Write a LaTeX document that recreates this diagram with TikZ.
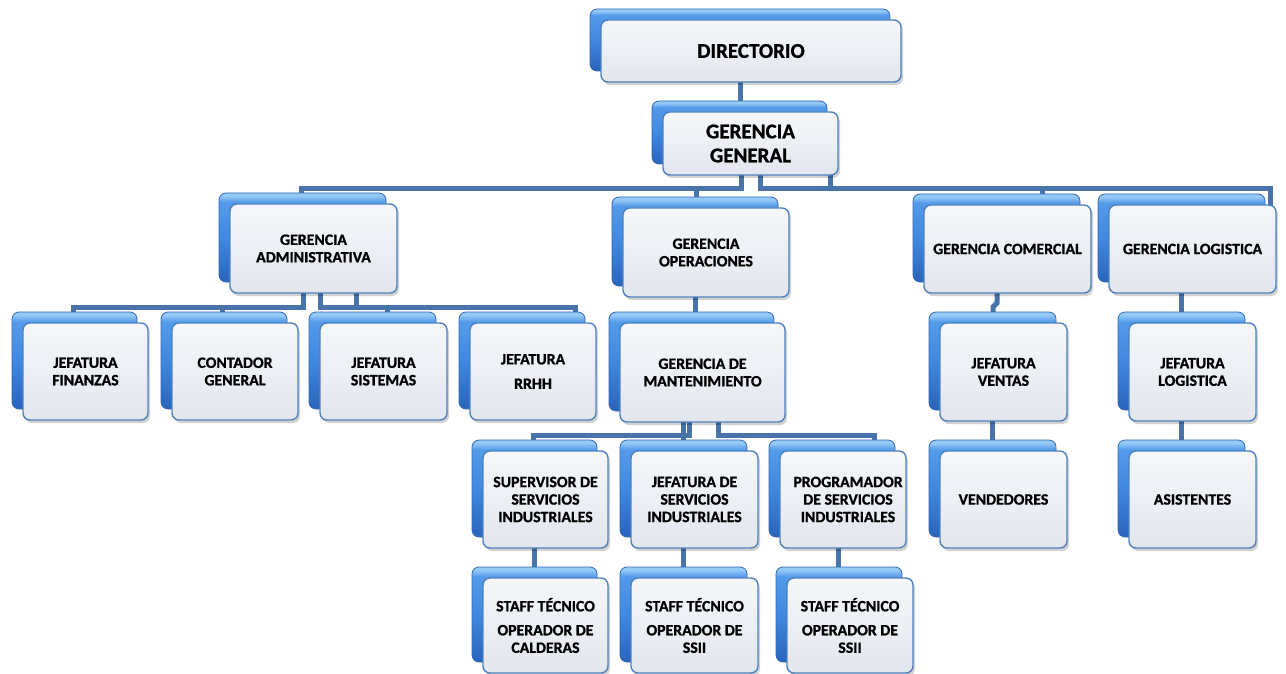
\documentclass[tikz,border=0pt]{standalone}
\usepackage{fontspec}
\newfontfamily\cardfamily{Carlito}[BoldFeatures={FakeBold=1.1}]
\usetikzlibrary{shadows,calc,backgrounds}

\definecolor{linkblue}{RGB}{72,116,170}
\definecolor{edgeblue}{RGB}{79,129,189}
\definecolor{paneltop}{RGB}{245,247,250}
\definecolor{panelbot}{RGB}{226,230,237}
\definecolor{backedge}{RGB}{52,104,176}
\definecolor{backlow}{RGB}{42,100,188}
\definecolor{backmid}{RGB}{64,136,224}
\definecolor{backmidtop}{RGB}{84,154,234}
\definecolor{backhi}{RGB}{150,202,246}

% glossy blue body of the card behind each panel
\pgfdeclareverticalshading{backblue}{100bp}{%
  color(0bp)=(backlow); color(25bp)=(backlow); color(50bp)=(backmid);
  color(70bp)=(backmidtop); color(73.5bp)=(backhi); color(75bp)=(backhi);
  color(100bp)=(backhi)}

\newcommand\bigfont{\cardfamily\bfseries\fontsize{21}{24}\selectfont}
\newcommand\midfont{\cardfamily\bfseries\fontsize{15.8}{17.5}\selectfont}

\tikzset{
  card/.style={
    rounded corners=7pt, draw=edgeblue, line width=1.4pt,
    top color=paneltop, bottom color=panelbot,
    align=center, inner sep=0pt, outer sep=0pt, text=black,
    font=\midfont,
    general shadow={shadow xshift=-11pt, shadow yshift=11pt,
      shading=backblue, draw=backedge, line width=0.8pt},
    drop shadow={shadow xshift=2pt, shadow yshift=-3pt,
      opacity=.18, fill=black, draw=none}},
  bigcard/.style={card, font=\bigfont},
  link/.style={draw=linkblue, line width=5pt, line join=miter},
}

\begin{document}
\begin{tikzpicture}[x=1pt,y=-1pt]
\useasboundingbox (0,0) rectangle (1286,674);
\clip (0,0) rectangle (1286,674);

% ---------- cards ----------
\node[bigcard, minimum width=300, minimum height=62] (dir) at (751,51) {DIRECTORIO};
\node[bigcard, minimum width=175, minimum height=63] (gg) at (750.5,143.5) {GERENCIA\\GENERAL};

\node[card, minimum width=167, minimum height=89] (adm) at (313.5,248.5) {GERENCIA\\ADMINISTRATIVA};
\node[card, minimum width=166, minimum height=89] (ope) at (706,252.5) {GERENCIA\\OPERACIONES};
\node[card, minimum width=167, minimum height=88] (com) at (1007.5,249) {GERENCIA COMERCIAL};
\node[card, minimum width=167, minimum height=88] (log) at (1192.5,249) {GERENCIA LOGISTICA};

\node[card, minimum width=125, minimum height=97] (fin) at (85.5,371.5) {JEFATURA\\FINANZAS};
\node[card, minimum width=126, minimum height=97] (con) at (235,371.5) {CONTADOR\\GENERAL};
\node[card, minimum width=127, minimum height=97] (sis) at (383.5,371.5) {JEFATURA\\SISTEMAS};
\node[card, minimum width=126, minimum height=97] (rrhh) at (533,371.5) {JEFATURA\\[7pt]RRHH};

\node[card, minimum width=165, minimum height=99] (man) at (702.5,372.5) {GERENCIA DE\\MANTENIMIENTO};
\node[card, minimum width=127, minimum height=98] (ven) at (1003.5,372) {JEFATURA\\VENTAS};
\node[card, minimum width=127, minimum height=98] (jlog) at (1192.5,372) {JEFATURA\\LOGISTICA};
\node[card, minimum width=127, minimum height=97] (vend) at (1003.5,499.5) {VENDEDORES};
\node[card, minimum width=127, minimum height=97] (asis) at (1192.5,499.5) {ASISTENTES};

\node[card, minimum width=125, minimum height=97] (sup) at (545.5,499.5) {SUPERVISOR DE\\SERVICIOS\\INDUSTRIALES};
\node[card, minimum width=127, minimum height=97] (jser) at (694.5,499.5) {JEFATURA DE\\SERVICIOS\\INDUSTRIALES};
\node[card, minimum width=126, minimum height=97] (prog) at (843,499.5) {\hspace*{10pt}PROGRAMADOR\\\hspace*{10pt}DE SERVICIOS\\\hspace*{10pt}INDUSTRIALES};

\node[card, minimum width=125, minimum height=95] (st1) at (545.5,625.5) {STAFF T\'ECNICO\\[6.5pt]OPERADOR DE\\CALDERAS};
\node[card, minimum width=127, minimum height=95] (st2) at (694.5,625.5) {STAFF T\'ECNICO\\[6.5pt]OPERADOR DE\\SSII};
\node[card, minimum width=126, minimum height=95] (st3) at (850,625.5) {STAFF T\'ECNICO\\[6.5pt]OPERADOR DE\\SSII};

% ---------- attachment points ----------
\coordinate (busTop) at (0,189);
\coordinate (busAdm) at (0,307);
\coordinate (busMan) at (0,435);

\coordinate (dir-out) at ([xshift=-11pt]dir.south);
\coordinate (gg-o1) at ([xshift=-9.5pt]gg.south);
\coordinate (gg-o2) at ([xshift=9.5pt]gg.south);
\coordinate (gg-o3) at ([xshift=79.5pt]gg.south);
\coordinate (adm-in) at ([xshift=-12.5pt]adm.north);
\coordinate (ope-in) at ([xshift=-10pt]ope.north);
\coordinate (com-in) at ([xshift=34.5pt]com.north);
\coordinate (log-in) at ([xshift=77.5pt]log.north);

\coordinate (adm-o1) at ([xshift=-10.5pt]adm.south);
\coordinate (adm-o2) at ([xshift=6.5pt]adm.south);
\coordinate (adm-o3) at ([xshift=42.5pt]adm.south);
\coordinate (fin-in) at ([xshift=-12.5pt]fin.north);
\coordinate (con-in) at ([xshift=-13pt]con.north);
\coordinate (sis-in) at ([xshift=3.5pt]sis.north);
\coordinate (rrhh-in) at ([xshift=42pt]rrhh.north);

\coordinate (ope-out) at ([xshift=-11pt]ope.south);
\coordinate (man-o1) at ([xshift=-19.5pt]man.south);
\coordinate (man-o2) at ([xshift=-13.5pt]man.south);
\coordinate (man-o3) at ([xshift=15.5pt]man.south);
\coordinate (sup-in) at ([xshift=-12.5pt]sup.north);
\coordinate (jser-in) at ([xshift=-11.5pt]jser.north);
\coordinate (prog-in) at ([xshift=31pt]prog.north);
\coordinate (sup-out) at ([xshift=-11.5pt]sup.south);
\coordinate (jser-out) at ([xshift=-11.5pt]jser.south);
\coordinate (prog-out) at ([xshift=-5pt]prog.south);

\coordinate (com-out) at ([xshift=-10.5pt]com.south);
\coordinate (ven-in) at ([xshift=-10.5pt]ven.north);
\coordinate (ven-out) at ([xshift=-11.5pt]ven.south);
\coordinate (log-out) at ([xshift=-11.5pt]log.south);
\coordinate (jlog-out) at ([xshift=-11.5pt]jlog.south);

% ---------- connectors (behind the cards) ----------
\begin{pgfonlayer}{background}
  \draw[link] (dir-out) -- (dir-out |- gg.north);

  \draw[link] (gg-o1) |- (adm-in |- busTop) -- (adm-in);
  \draw[link] (gg-o1) |- (ope-in |- busTop) -- (ope-in);
  \draw[link] (gg-o2) |- (com-in |- busTop) -- (com-in);
  \draw[link] (gg-o3) |- (log-in |- busTop) -- (log-in);

  \draw[link] (adm-o1) |- (fin-in |- busAdm) -- (fin-in);
  \draw[link] (adm-o1) |- (con-in |- busAdm) -- (con-in);
  \draw[link] (adm-o2) |- (sis-in |- busAdm) -- (sis-in);
  \draw[link] (adm-o3) |- (rrhh-in |- busAdm) -- (rrhh-in);

  \draw[link] (ope-out) -- (ope-out |- man.north);

  \draw[link] (man-o1) |- (sup-in |- busMan) -- (sup-in);
  \draw[link] (man-o2) |- (jser-in |- busMan) -- (jser-in);
  \draw[link] (man-o3) |- (prog-in |- busMan) -- (prog-in);

  \draw[link] (sup-out) -- (sup-out |- st1.north);
  \draw[link] (jser-out) -- (jser-out |- st2.north);
  \draw[link] (prog-out) -- (prog-out |- st3.north);

  \draw[link] (com-out) -- ++(0,10) -- ++(-4,4) -- (ven-in);
  \draw[link] (ven-out) -- (ven-out |- vend.north);
  \draw[link] (log-out) -- (log-out |- jlog.north);
  \draw[link] (jlog-out) -- (jlog-out |- asis.north);
\end{pgfonlayer}
\end{tikzpicture}
\end{document}
